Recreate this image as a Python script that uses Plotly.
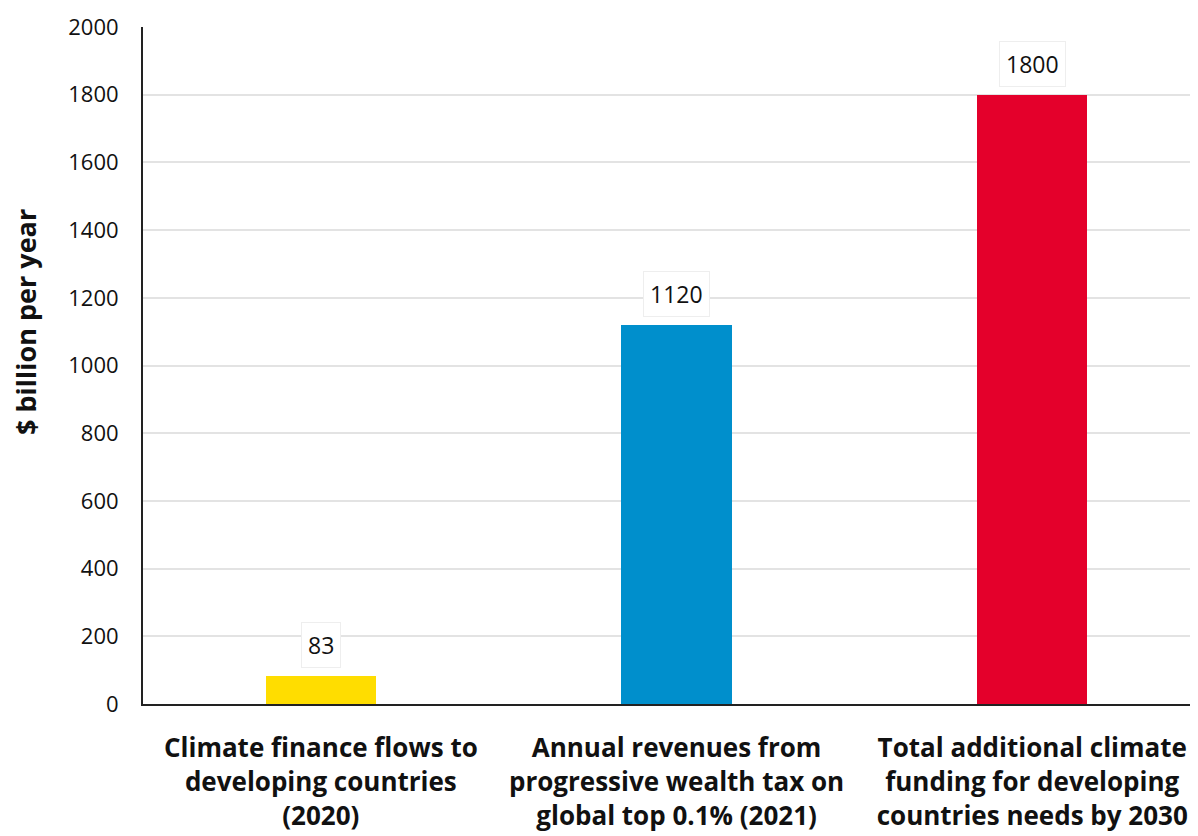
import plotly.graph_objects as go

categories = [
    "Climate finance flows to<br>developing countries<br>(2020)",
    "Annual revenues from<br>progressive wealth tax on<br>global top 0.1% (2021)",
    "Total additional climate<br>funding for developing<br>countries needs by 2030",
]
values = [83, 1120, 1800]
colors = ["#FFDD00", "#008FCC", "#E4002B"]
y_ticks = [0, 200, 400, 600, 800, 1000, 1200, 1400, 1600, 1800, 2000]

FONT = "'Open Sans', Lato, sans-serif"

fig = go.Figure()
fig.add_trace(go.Bar(
    x=[0, 1, 2], y=values, marker_color=colors, width=0.31,
    marker_line_width=0, hoverinfo="skip",
))

for i, v in enumerate(values):
    fig.add_annotation(
        x=i, y=v, text=str(v), showarrow=False, yanchor="bottom", yshift=8,
        font=dict(family=FONT, size=23, color="#111"),
        bgcolor="white", bordercolor="#eeeeee", borderwidth=1, borderpad=6,
    )

fig.add_annotation(
    xref="paper", yref="paper", x=-0.112, y=0.564, xanchor="center", yanchor="middle",
    text="<b>$ billion per year</b>", textangle=-90, showarrow=False,
    font=dict(family=FONT, size=27, color="#111"),
)

fig.update_layout(
    width=1198, height=836,
    margin=dict(l=135, r=8, t=19, b=140),
    plot_bgcolor="white", paper_bgcolor="white",
    showlegend=False, bargap=0,
    font=dict(family=FONT, color="#111"),
)
fig.update_xaxes(
    tickmode="array", tickvals=[0, 1, 2], ticktext=categories,
    range=[-0.5, 2.466], automargin=False,
    tickfont=dict(family=FONT, size=26, color="#111", weight="bold"),
    showline=True, linecolor="#222", linewidth=2, ticks="", showgrid=False,
    ticklabelstandoff=20,
)
fig.update_yaxes(
    range=[0, 2000], tickvals=y_ticks, automargin=False,
    tickfont=dict(family=FONT, size=22, color="#111"),
    showline=True, linecolor="#222", linewidth=2, ticks="",
    gridcolor="#e3e3e3", gridwidth=2, zeroline=False,
    ticklabelstandoff=18,
)

fig.write_html("out.html")
